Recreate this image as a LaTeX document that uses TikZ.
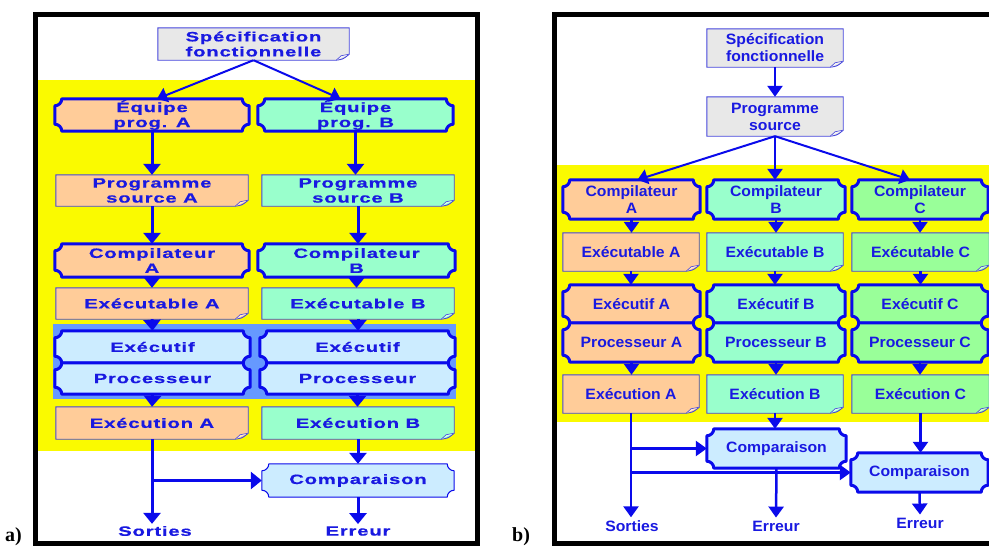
\documentclass[tikz,border=0pt]{standalone}
\usepackage{fontspec}
\setmainfont{Liberation Sans}
\newfontfamily\lfont[FakeStretch=1.5,LetterSpace=6,FakeBold=0.6]{Liberation Sans}
\newfontfamily\rfont[FakeStretch=1.05]{Liberation Sans}
\newfontfamily\serifb{Liberation Serif}
\usetikzlibrary{arrows.meta,calc}
\definecolor{lineblue}{RGB}{10,10,235}
\definecolor{textblue}{RGB}{25,25,225}
\definecolor{noteblue}{RGB}{70,70,220}
\definecolor{peach}{RGB}{255,204,153}
\definecolor{mint}{RGB}{153,255,204}
\definecolor{lgreen}{RGB}{153,255,153}
\definecolor{lblue}{RGB}{204,236,255}
\definecolor{band}{RGB}{102,153,255}
\definecolor{ylw}{RGB}{250,250,0}
\definecolor{lgray}{RGB}{232,232,232}
\pgfdeclarelayer{back}
\pgfdeclarelayer{shapes}
\pgfsetlayers{back,shapes,main}
\newcommand\plaque[4]{%
 \path[fill=#2, draw=lineblue, line width=#3, line join=round] let \p1=(#1.south west), \p2=(#1.north east) in
 (\x1+#4,\y1) -- (\x2-#4,\y1) arc[start angle=180,end angle=90,radius=#4]
 -- (\x2,\y2-#4) arc[start angle=270,end angle=180,radius=#4]
 -- (\x1+#4,\y2) arc[start angle=0,end angle=-90,radius=#4]
 -- (\x1,\y1+#4) arc[start angle=90,end angle=0,radius=#4] -- cycle;}
\newcommand\notebox[2]{%
 \path[fill=#2, draw=noteblue, line width=0.9pt] let \p1=(#1.south west), \p2=(#1.north east) in
 (\x1,\y1) -- (\x2-13pt,\y1) .. controls (\x2-6pt,\y1+1pt) .. (\x2,\y1+6pt) -- (\x2,\y2) -- (\x1,\y2) -- cycle;
 \path[fill=white!60!#2, draw=noteblue, line width=0.6pt] let \p1=(#1.south west), \p2=(#1.north east) in
 (\x2-13pt,\y1) -- (\x2-8pt,\y1+4.5pt) -- (\x2,\y1+6pt);}
\tikzset{
 tl/.style={inner sep=0pt, align=center, text=textblue, font=\lfont\bfseries\fontsize{13.5}{15}\selectfont},
 tr/.style={inner sep=0pt, align=center, text=textblue, font=\rfont\bfseries\fontsize{15}{17}\selectfont},
 sz/.style 2 args={minimum width=#1pt, minimum height=#2pt},
 arrL/.style={draw=lineblue, line width=3pt, -{Triangle[width=17pt,length=11pt]}},
 arrT/.style={draw=lineblue, line width=2pt, -{Triangle[width=15pt,length=10pt]}},
 arrR/.style={draw=lineblue, line width=2.5pt, -{Triangle[width=15pt,length=11pt]}},
 lab/.style={inner sep=0pt, font=\serifb\bfseries\fontsize{20}{22}\selectfont, anchor=base west},
}
\begin{document}
\begin{tikzpicture}[x=1pt,y=-1pt]
\useasboundingbox (0,0) rectangle (989,546);
% ---------- backgrounds ----------
\begin{pgfonlayer}{back}
\fill[white] (0,0) rectangle (989,546);
\fill[ylw] (38,80) rectangle (475,451);
\fill[band] (53,324) rectangle (456,399);
\draw[line width=5pt] (35.5,14.5) rectangle (477.5,543.5);
\fill[ylw] (557,165) rectangle (995,422);
\draw[line width=5pt] (554.5,14.5) rectangle (1000,543.5);
\end{pgfonlayer}
% ---------- labels ----------
\node[lab] (la) at (5,541) {a)};
\node[lab] (lb) at (512,541) {b)};
% ---------- left panel ----------
\node[tl, sz={191}{32}] (SpecL) at (253.5,44) {Spécification\\fonctionnelle};
\node[tl, sz={194}{32}] (EqA) at (152,115) {Équipe\\prog. A};
\node[tl, sz={195}{32}] (EqB) at (355.5,115) {Équipe\\prog. B};
\node[tl, sz={192}{31}] (PsA) at (152,190.5) {Programme\\source A};
\node[tl, sz={192}{31}] (PsB) at (358,190.5) {Programme\\source B};
\node[tl, sz={194}{33}] (CoA) at (152,260.5) {Compilateur\\A};
\node[tl, sz={197}{33}] (CoB) at (356.5,260.5) {Compilateur\\B};
\node[tl, sz={192}{31}] (ExeA) at (152,303.5) {Exécutable A};
\node[tl, sz={192}{31}] (ExeB) at (358,303.5) {Exécutable B};
\node[tl, sz={195}{32}] (EfA) at (152.5,347) {Exécutif};
\node[tl, sz={195}{32}] (EfB) at (357.5,347) {Exécutif};
\node[tl, sz={195}{31}] (PrA) at (152.5,378.5) {Processeur};
\node[tl, sz={195}{31}] (PrB) at (357.5,378.5) {Processeur};
\node[tl, sz={192}{32}] (XnA) at (152,423) {Exécution A};
\node[tl, sz={192}{32}] (XnB) at (358,423) {Exécution B};
\node[tl, sz={192}{33}] (CmpL) at (358,480.5) {Comparaison};
\node[tl, inner sep=2pt] (SortL) at (155,531) {Sorties};
\node[tl, inner sep=2pt] (ErrL) at (358,531) {Erreur};
% ---------- right panel ----------
\node[tr, sz={136}{38}] (SpecR) at (775,48) {Spécification\\fonctionnelle};
\node[tr, sz={136}{39}] (PsR) at (775,116.5) {Programme\\source};
\node[tr, sz={137}{39}] (CoRA) at (631.5,199.5) {Compilateur\\A};
\node[tr, sz={138}{39}] (CoRB) at (776,199.5) {Compilateur\\B};
\node[tr, sz={136}{39}] (CoRC) at (920,199.5) {Compilateur\\C};
\node[tr, sz={136}{38}] (ExRA) at (631,252) {Exécutable A};
\node[tr, sz={136}{38}] (ExRB) at (775,252) {Exécutable B};
\node[tr, sz={137}{38}] (ExRC) at (920.5,252) {Exécutable C};
\node[tr, sz={137}{38}] (EfRA) at (631.5,304) {Exécutif A};
\node[tr, sz={138}{38}] (EfRB) at (776,304) {Exécutif B};
\node[tr, sz={136}{38}] (EfRC) at (920,304) {Exécutif C};
\node[tr, sz={137}{39}] (PrRA) at (631.5,342.5) {Processeur A};
\node[tr, sz={138}{39}] (PrRB) at (776,342.5) {Processeur B};
\node[tr, sz={136}{39}] (PrRC) at (920,342.5) {Processeur C};
\node[tr, sz={136}{38}] (XnRA) at (631,394) {Exécution A};
\node[tr, sz={136}{38}] (XnRB) at (775,394) {Exécution B};
\node[tr, sz={137}{38}] (XnRC) at (920.5,394) {Exécution C};
\node[tr, sz={139}{39}] (CmpRB) at (776.5,448.5) {Comparaison};
\node[tr, sz={137}{39}] (CmpRC) at (919.5,472.5) {Comparaison};
\node[tr, inner sep=3pt] (SortR) at (632,526) {Sorties};
\node[tr, inner sep=3pt] (ErrRB) at (776,526) {Erreur};
\node[tr, inner sep=3pt] (ErrRC) at (920,523) {Erreur};
% ---------- shapes ----------
\begin{pgfonlayer}{shapes}
\notebox{SpecL}{lgray}
\plaque{EqA}{peach}{3pt}{7pt}
\plaque{EqB}{mint}{3pt}{7pt}
\notebox{PsA}{peach}
\notebox{PsB}{mint}
\plaque{CoA}{peach}{3pt}{7pt}
\plaque{CoB}{mint}{3pt}{7pt}
\notebox{ExeA}{peach}
\notebox{ExeB}{mint}
\plaque{EfA}{lblue}{3pt}{7pt}
\plaque{EfB}{lblue}{3pt}{7pt}
\plaque{PrA}{lblue}{3pt}{7pt}
\plaque{PrB}{lblue}{3pt}{7pt}
\notebox{XnA}{peach}
\notebox{XnB}{mint}
\plaque{CmpL}{lblue}{1pt}{7pt}
\notebox{SpecR}{lgray}
\notebox{PsR}{lgray}
\plaque{CoRA}{peach}{3pt}{7pt}
\plaque{CoRB}{mint}{3pt}{7pt}
\plaque{CoRC}{lgreen}{3pt}{7pt}
\notebox{ExRA}{peach}
\notebox{ExRB}{mint}
\notebox{ExRC}{lgreen}
\plaque{EfRA}{peach}{3pt}{7pt}
\plaque{EfRB}{mint}{3pt}{7pt}
\plaque{EfRC}{lgreen}{3pt}{7pt}
\plaque{PrRA}{peach}{3pt}{7pt}
\plaque{PrRB}{mint}{3pt}{7pt}
\plaque{PrRC}{lgreen}{3pt}{7pt}
\notebox{XnRA}{peach}
\notebox{XnRB}{mint}
\notebox{XnRC}{lgreen}
\plaque{CmpRB}{lblue}{3pt}{7pt}
\plaque{CmpRC}{lblue}{3pt}{7pt}
\end{pgfonlayer}
% ---------- left connectors ----------
\draw[arrT] (SpecL.south) -- ($(EqA.north)+(5,0)$);
\draw[arrT] (SpecL.south) -- ($(EqB.north)+(-15,0)$);
\draw[arrL] (EqA.south) -- (PsA.north);
\draw[arrL] (EqB.south) -- (EqB.south |- PsB.north);
\draw[arrL] (PsA.south) -- (CoA.north);
\draw[arrL] (PsB.south) -- (PsB.south |- CoB.north);
\draw[arrL] (CoA.south) -- (ExeA.north);
\draw[arrL] (CoB.south) -- (CoB.south |- ExeB.north);
\draw[arrL] (ExeA.south) -- (EfA.north);
\draw[arrL] (ExeB.south) -- (ExeB.south |- EfB.north);
\draw[arrL] (PrA.south) -- (XnA.north);
\draw[arrL] (PrB.south) -- (PrB.south |- XnB.north);
\draw[arrL] (XnA.south) -- (XnA.south |- SortL.north);
\draw[arrL] (XnA.south |- CmpL.west) -- (CmpL.west);
\draw[arrL] (XnB.south) -- (CmpL.north);
\draw[arrL] (CmpL.south) -- (ErrL.north);
% ---------- right connectors ----------
\draw[arrR] (SpecR.south) -- (PsR.north);
\draw[arrT] (PsR.south) -- ($(CoRA.north)+(6,0)$);
\draw[arrR] (PsR.south) -- (PsR.south |- CoRB.north);
\draw[arrT] (PsR.south) -- ($(CoRC.north)+(-10,0)$);
\draw[arrR] (CoRA.south) -- (CoRA.south |- ExRA.north);
\draw[arrR] (CoRB.south) -- (CoRB.south |- ExRB.north);
\draw[arrR] (CoRC.south) -- (CoRC.south |- ExRC.north);
\draw[arrR] (ExRA.south) -- (ExRA.south |- EfRA.north);
\draw[arrR] (ExRB.south) -- (ExRB.south |- EfRB.north);
\draw[arrR] (ExRC.south) -- (ExRC.south |- EfRC.north);
\draw[arrR] (PrRA.south) -- (PrRA.south |- XnRA.north);
\draw[arrR] (PrRB.south) -- (PrRB.south |- XnRB.north);
\draw[arrR] (PrRC.south) -- (PrRC.south |- XnRC.north);
\draw[arrR] (XnRA.south) -- (XnRA.south |- SortR.north);
\draw[arrR] (XnRA.south |- CmpRB.west) -- (CmpRB.west);
\draw[arrR] (XnRA.south |- CmpRC.west) -- (CmpRC.west);
\draw[arrR] (XnRB.south) -- (XnRB.south |- CmpRB.north);
\draw[arrR] (XnRC.south) -- (XnRC.south |- CmpRC.north);
\draw[arrR] (CmpRB.south) -- (ErrRB.north);
\draw[arrR] (CmpRC.south) -- (ErrRC.north);
\end{tikzpicture}
\end{document}
